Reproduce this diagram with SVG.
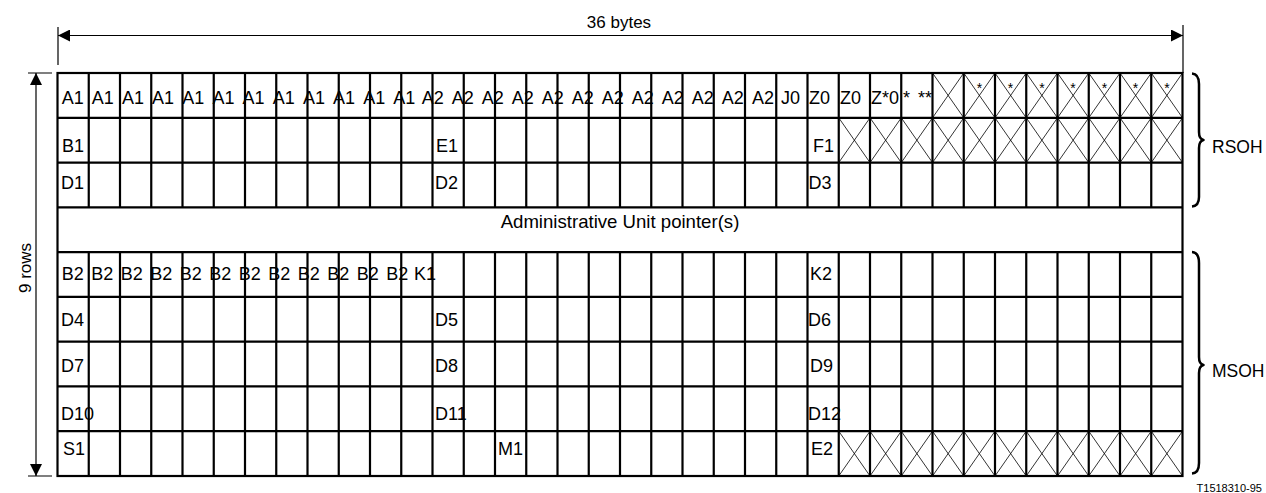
<svg xmlns="http://www.w3.org/2000/svg" width="1266" height="493" viewBox="0 0 1266 493">
<style>
text{font-family:"Liberation Sans",Arial,sans-serif;fill:#000}
.l{font-size:18px}
.s{font-size:14px;text-anchor:middle}
.g{stroke:#000;stroke-width:2.2;fill:none}
.x{stroke:#000;stroke-width:0.8;fill:none}
.d{stroke:#000;stroke-width:1.2;fill:none}
.br{stroke:#000;stroke-width:2.5;fill:none;stroke-linejoin:round}
</style>
<defs>
<marker id="ah" viewBox="0 0 12 12" refX="12" refY="6" markerWidth="12" markerHeight="12" markerUnits="userSpaceOnUse" orient="auto-start-reverse">
<path d="M0,0 L12,6 L0,12 Z" fill="#000"/>
</marker>
</defs>
<rect width="1266" height="493" fill="#fff"/>

<g id="grid">
<rect class="g" x="57.5" y="73" width="1125" height="403"/>
<path class="g" d="M57.5,117.8H1182.5M57.5,162.6H1182.5M57.5,207.3H1182.5M57.5,252.1H1182.5M57.5,296.9H1182.5M57.5,341.7H1182.5M57.5,386.4H1182.5M57.5,431.2H1182.5
M88.75,73V207.3M120,73V207.3M151.25,73V207.3M182.5,73V207.3M213.75,73V207.3M245,73V207.3M276.25,73V207.3M307.5,73V207.3M338.75,73V207.3M370,73V207.3M401.25,73V207.3M432.5,73V207.3M463.75,73V207.3M495,73V207.3M526.25,73V207.3M557.5,73V207.3M588.75,73V207.3M620,73V207.3M651.25,73V207.3M682.5,73V207.3M713.75,73V207.3M745,73V207.3M776.25,73V207.3M807.5,73V207.3M838.75,73V207.3M870,73V207.3M901.25,73V207.3M932.5,73V207.3M963.75,73V207.3M995,73V207.3M1026.25,73V207.3M1057.5,73V207.3M1088.75,73V207.3M1120,73V207.3M1151.25,73V207.3
M88.75,252.1V476M120,252.1V476M151.25,252.1V476M182.5,252.1V476M213.75,252.1V476M245,252.1V476M276.25,252.1V476M307.5,252.1V476M338.75,252.1V476M370,252.1V476M401.25,252.1V476M432.5,252.1V476M463.75,252.1V476M495,252.1V476M526.25,252.1V476M557.5,252.1V476M588.75,252.1V476M620,252.1V476M651.25,252.1V476M682.5,252.1V476M713.75,252.1V476M745,252.1V476M776.25,252.1V476M807.5,252.1V476M838.75,252.1V476M870,252.1V476M901.25,252.1V476M932.5,252.1V476M963.75,252.1V476M995,252.1V476M1026.25,252.1V476M1057.5,252.1V476M1088.75,252.1V476M1120,252.1V476M1151.25,252.1V476"/>
</g>

<g id="crossed">
<path class="x" d="M932.5,73L963.75,117.8M963.75,73L932.5,117.8M963.75,73L995,117.8M995,73L963.75,117.8M995,73L1026.25,117.8M1026.25,73L995,117.8M1026.25,73L1057.5,117.8M1057.5,73L1026.25,117.8M1057.5,73L1088.75,117.8M1088.75,73L1057.5,117.8M1088.75,73L1120,117.8M1120,73L1088.75,117.8M1120,73L1151.25,117.8M1151.25,73L1120,117.8M1151.25,73L1182.5,117.8M1182.5,73L1151.25,117.8
M838.75,117.8L870,162.6M870,117.8L838.75,162.6M870,117.8L901.25,162.6M901.25,117.8L870,162.6M901.25,117.8L932.5,162.6M932.5,117.8L901.25,162.6M932.5,117.8L963.75,162.6M963.75,117.8L932.5,162.6M963.75,117.8L995,162.6M995,117.8L963.75,162.6M995,117.8L1026.25,162.6M1026.25,117.8L995,162.6M1026.25,117.8L1057.5,162.6M1057.5,117.8L1026.25,162.6M1057.5,117.8L1088.75,162.6M1088.75,117.8L1057.5,162.6M1088.75,117.8L1120,162.6M1120,117.8L1088.75,162.6M1120,117.8L1151.25,162.6M1151.25,117.8L1120,162.6M1151.25,117.8L1182.5,162.6M1182.5,117.8L1151.25,162.6
M838.75,431.2L870,476M870,431.2L838.75,476M870,431.2L901.25,476M901.25,431.2L870,476M901.25,431.2L932.5,476M932.5,431.2L901.25,476M932.5,431.2L963.75,476M963.75,431.2L932.5,476M963.75,431.2L995,476M995,431.2L963.75,476M995,431.2L1026.25,476M1026.25,431.2L995,476M1026.25,431.2L1057.5,476M1057.5,431.2L1026.25,476M1057.5,431.2L1088.75,476M1088.75,431.2L1057.5,476M1088.75,431.2L1120,476M1120,431.2L1088.75,476M1120,431.2L1151.25,476M1151.25,431.2L1120,476M1151.25,431.2L1182.5,476M1182.5,431.2L1151.25,476"/>
</g>

<g id="row1" class="l">
<text x="61.7" y="103.5">A1</text><text x="91.8" y="103.5">A1</text><text x="122" y="103.5">A1</text><text x="152.1" y="103.5">A1</text><text x="182.3" y="103.5">A1</text><text x="212.4" y="103.5">A1</text><text x="242.6" y="103.5">A1</text><text x="272.7" y="103.5">A1</text><text x="302.9" y="103.5">A1</text><text x="333" y="103.5">A1</text><text x="363.2" y="103.5">A1</text><text x="393.3" y="103.5">A1</text>
<text x="421.7" y="103.5">A2</text><text x="451.7" y="103.5">A2</text><text x="481.7" y="103.5">A2</text><text x="511.7" y="103.5">A2</text><text x="541.7" y="103.5">A2</text><text x="571.7" y="103.5">A2</text><text x="601.7" y="103.5">A2</text><text x="631.7" y="103.5">A2</text><text x="661.7" y="103.5">A2</text><text x="691.7" y="103.5">A2</text><text x="721.7" y="103.5">A2</text><text x="752" y="103.5">A2</text>
<text x="781" y="103.5">J0</text><text x="809" y="103.5">Z0</text><text x="840" y="103.5">Z0</text><text x="871" y="103.5">Z*0</text><text x="903" y="103.5">*</text><text x="918" y="103.5">**</text>
</g>
<g id="row1-reserved" class="s">
<text x="979.4" y="93">*</text><text x="1010.6" y="93">*</text><text x="1041.9" y="93">*</text><text x="1073.1" y="93">*</text><text x="1104.4" y="93">*</text><text x="1135.6" y="93">*</text><text x="1166.9" y="93">*</text>
</g>
<g id="row2" class="l"><text x="62" y="152">B1</text><text x="436" y="152">E1</text><text x="813" y="152">F1</text></g>
<g id="row3" class="l"><text x="61" y="189">D1</text><text x="435" y="189">D2</text><text x="808.5" y="189">D3</text></g>
<g id="row4"><text x="620" y="228" font-size="18.6" text-anchor="middle">Administrative Unit pointer(s)</text></g>
<g id="row5" class="l">
<text x="61.7" y="280">B2</text><text x="91.2" y="280">B2</text><text x="120.7" y="280">B2</text><text x="150.2" y="280">B2</text><text x="179.7" y="280">B2</text><text x="209.2" y="280">B2</text><text x="238.7" y="280">B2</text><text x="268.2" y="280">B2</text><text x="297.7" y="280">B2</text><text x="327.2" y="280">B2</text><text x="356.7" y="280">B2</text><text x="386.2" y="280">B2</text>
<text x="414" y="280">K1</text><text x="810" y="280">K2</text>
</g>
<g id="row6" class="l"><text x="61" y="326">D4</text><text x="435" y="326">D5</text><text x="808" y="326">D6</text></g>
<g id="row7" class="l"><text x="61" y="372">D7</text><text x="435" y="372">D8</text><text x="810" y="372">D9</text></g>
<g id="row8" class="l"><text x="61" y="420">D10</text><text x="435" y="420">D11</text><text x="808" y="420">D12</text></g>
<g id="row9" class="l"><text x="63" y="455">S1</text><text x="498" y="455">M1</text><text x="811" y="455">E2</text></g>

<g id="connectors">
<path class="d" d="M58,27V65M1183,25V73M28,73H52M28,476H52"/>
<path class="d" d="M58,35.5H1183" marker-start="url(#ah)" marker-end="url(#ah)"/>
<path class="d" d="M36,73V476" marker-start="url(#ah)" marker-end="url(#ah)"/>
</g>
<g id="dim-labels">
<text x="619" y="28" font-size="17" text-anchor="middle">36 bytes</text>
<text transform="translate(31,268) rotate(-90)" font-size="17" text-anchor="middle">9 rows</text>
</g>

<g id="rsoh">
<path class="br" d="M1192,73.5Q1199,74 1199,84L1199,132Q1199,139 1203.5,140Q1199,141 1199,148L1199,197Q1199,206 1192,206.5"/>
<text x="1212" y="153" font-size="17.5">RSOH</text>
</g>
<g id="msoh">
<path class="br" d="M1192,252Q1199,252.5 1199,263L1199,357Q1199,364 1203.5,365Q1199,366 1199,373L1199,463Q1199,473 1192,473.5"/>
<text x="1212" y="377" font-size="17.5">MSOH</text>
</g>
<text x="1262" y="492" font-size="11" text-anchor="end">T1518310-95</text>
</svg>
